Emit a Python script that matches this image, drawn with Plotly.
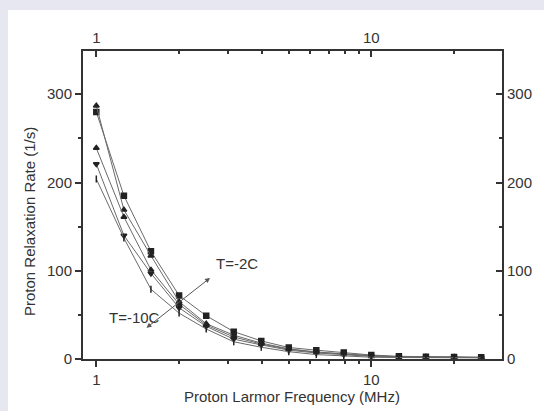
import plotly.graph_objects as go

# ---- data ----
freq_mhz = [1.0, 1.26, 1.58, 2.0, 2.51, 3.16, 3.98, 5.01, 6.31, 7.94, 10.0, 12.6, 15.8, 20.0, 25.1]
rate_s1 = [280, 185, 122, 72, 49, 31, 20.5, 13, 10, 7.5, 4.5, 3.0, 2.5, 2.2, 2.0]
rate_s2 = [287, 169, 117, 65, 40, 27, 18, 11.5, 8, 6, 3.8, 2.7, 2.3, 2.0, 1.8]
rate_s3 = [239, 161, 101, 62, 38.5, 25, 17, 11, 7.6, 5.5, 3.5, 2.5, 2.1, 1.9, 1.7]
rate_s4 = [221, 140, 97, 58, 37, 22.5, 16, 10, 6.8, 5, 3.0, 2.2, 2.0, 1.7, 1.6]
rate_s5 = [204, 137, 79, 52, 34, 19.5, 13.3, 8.3, 5, 3.5, 2.0, 1.7, 1.5, 1.4, 1.3]
series = [rate_s1, rate_s2, rate_s3, rate_s4, rate_s5]
x_ticks = [1, 10]
x_minor = [2, 3, 4, 5, 6, 7, 8, 9, 20]
y_ticks = [0, 100, 200, 300]
y_minor = [50, 150, 250]

# ---- layout geometry ----
W, H = 544, 411
L, R, T, B = 83, 502, 51, 359
pw, ph = R - L, B - T


def px(xp):
    return (xp - L) / pw


def py(yp):
    return (B - yp) / ph


FONT = "Arial, Liberation Sans, sans-serif"
AX = "#333333"
BG = "#e7e7f2"
markers = ["square", "triangle-up", "triangle-up", "triangle-down", "line-ns-open"]

fig = go.Figure()
for vals, sym in zip(series, markers):
    fig.add_trace(go.Scatter(
        x=freq_mhz, y=vals, mode="lines+markers",
        line=dict(color="#6a6a6a", width=1),
        marker=dict(symbol=sym, size=5, color="#222222",
                    line=dict(color="#222222", width=1.5)),
        showlegend=False, hoverinfo="skip"))

# helper trace so the mirrored axes exist
fig.add_trace(go.Scatter(x=[freq_mhz[0]], y=[rate_s1[0]], xaxis="x2", yaxis="y2",
                         mode="markers", marker=dict(opacity=0), showlegend=False,
                         hoverinfo="skip"))

xr = [-0.0484, 1.4753]
yr = [0, 349]
common_x = dict(type="log", range=xr, tickvals=x_ticks, ticktext=[str(v) for v in x_ticks],
                showline=True, linecolor=AX, linewidth=2, showgrid=False, zeroline=False,
                tickcolor=AX, tickwidth=1.5, ticklen=6,
                tickfont=dict(family=FONT, size=15, color=AX))
common_y = dict(range=yr, tickvals=y_ticks, showline=True, linecolor=AX, linewidth=2,
                showgrid=False, zeroline=False, tickcolor=AX, tickwidth=1.5, ticklen=6,
                tickfont=dict(family=FONT, size=15, color=AX))


def label(text, xp, yp, angle=0):
    return dict(text=text, xref="paper", yref="paper", x=px(xp), y=py(yp),
                xanchor="center", yanchor="middle", showarrow=False, textangle=angle,
                font=dict(family=FONT, size=15, color=AX))


fig.update_layout(
    width=W, height=H,
    margin=dict(l=L, r=W - R, t=T, b=H - B, pad=0),
    paper_bgcolor=BG, plot_bgcolor="white",
    xaxis=dict(**common_x, ticks="outside",
               minor=dict(tickvals=x_minor, ticks="outside", ticklen=3, tickcolor=AX, tickwidth=1.5)),
    xaxis2=dict(**common_x, ticks="inside", overlaying="x", side="top",
                minor=dict(tickvals=x_minor, ticks="inside", ticklen=3, tickcolor=AX, tickwidth=1.5)),
    yaxis=dict(**common_y, ticks="outside",
               minor=dict(tickvals=y_minor, ticks="outside", ticklen=3, tickcolor=AX, tickwidth=1.5)),
    yaxis2=dict(**common_y, ticks="inside", overlaying="y", side="right",
                minor=dict(tickvals=y_minor, ticks="inside", ticklen=3, tickcolor=AX, tickwidth=1.5)),
    shapes=[dict(type="rect", xref="paper", yref="paper", layer="below",
                 x0=px(8), x1=px(W + 5), y0=py(H + 5), y1=py(10),
                 fillcolor="white", line=dict(width=0))],
    annotations=[
        label("Proton Larmor Frequency (MHz)", 292, 396),
        label("Proton Relaxation Rate (1/s)", 29, 222, -90),
        label("T=-2C", 237, 263),
        label("T=-10C", 134, 317),
        dict(text="", xref="paper", yref="paper", x=px(210), y=py(278),
             ax=-65, ay=51, showarrow=True, arrowhead=2, startarrowhead=2,
             arrowside="end+start", arrowsize=1, arrowwidth=1, arrowcolor="#555555"),
    ],
)

fig.write_html(
    "out.html",
    config={"displayModeBar": False},
    post_script="document.body.style.margin='0';document.body.style.background='%s';" % BG,
)
